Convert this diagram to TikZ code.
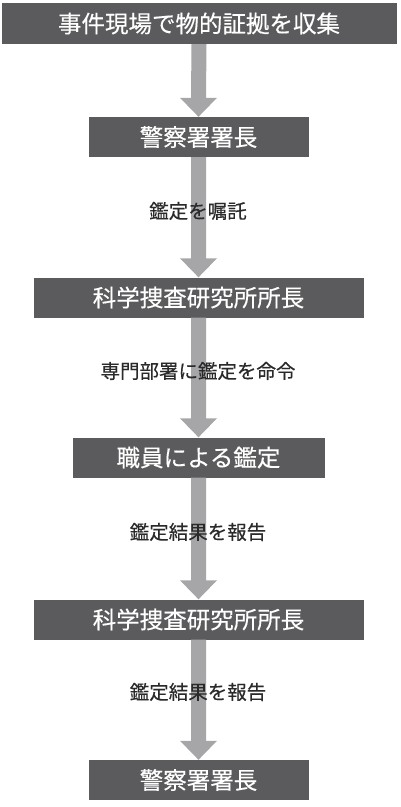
\documentclass[tikz,border=0pt]{standalone}
\usepackage{fontspec}
\newfontfamily\jpfont[FakeBold=0.35]{Noto Sans CJK JP}
\usetikzlibrary{calc}
\definecolor{boxgray}{HTML}{5B5B5D}
\definecolor{arrowgray}{HTML}{A6A6A8}
\definecolor{lblgray}{HTML}{2A2A2A}
\newcommand\flowarrow[2]{%
  \fill[arrowgray] ($(#1.south)+(-7.5,0)$) -- ($(#2.north)+(-7.5,19)$) -- ($(#2.north)+(-18.5,19)$) -- (#2.north) -- ($(#2.north)+(18.5,19)$) -- ($(#2.north)+(7.5,19)$) -- ($(#1.south)+(7.5,0)$) -- cycle;}
\begin{document}
\begin{tikzpicture}[x=1pt,y=1pt,
  box/.style={fill=boxgray, text=white, font=\jpfont\fontsize{23.5}{28}\selectfont, minimum height=40pt, inner sep=0pt, anchor=center},
  lbl/.style={text=lblgray, font=\jpfont\fontsize{19.5}{24}\selectfont, inner sep=0pt, anchor=center}]
\useasboundingbox (0,0) rectangle (400,-807);
\node[box, minimum width=395pt, minimum height=41pt] (b1) at (199,-23.5) {事件現場で物的証拠を収集};
\node[box, minimum width=220pt] (b2) at (198.5,-137) {警察署署長};
\node[box, minimum width=330pt] (b3) at (198.5,-297.5) {科学捜査研究所所長};
\node[box, minimum width=252pt] (b4) at (198.5,-457.5) {職員による鑑定};
\node[box, minimum width=330pt] (b5) at (198.5,-619.5) {科学捜査研究所所長};
\node[box, minimum width=220pt] (b6) at (198.5,-780) {警察署署長};
\flowarrow{b1}{b2}
\flowarrow{b2}{b3}
\flowarrow{b3}{b4}
\flowarrow{b4}{b5}
\flowarrow{b5}{b6}
\node[lbl] (l1) at (198,-211) {鑑定を嘱託};
\node[lbl] (l2) at (198,-371) {専門部署に鑑定を命令};
\node[lbl] (l3) at (198,-532) {鑑定結果を報告};
\node[lbl] (l4) at (198,-692) {鑑定結果を報告};
\end{tikzpicture}
\end{document}
